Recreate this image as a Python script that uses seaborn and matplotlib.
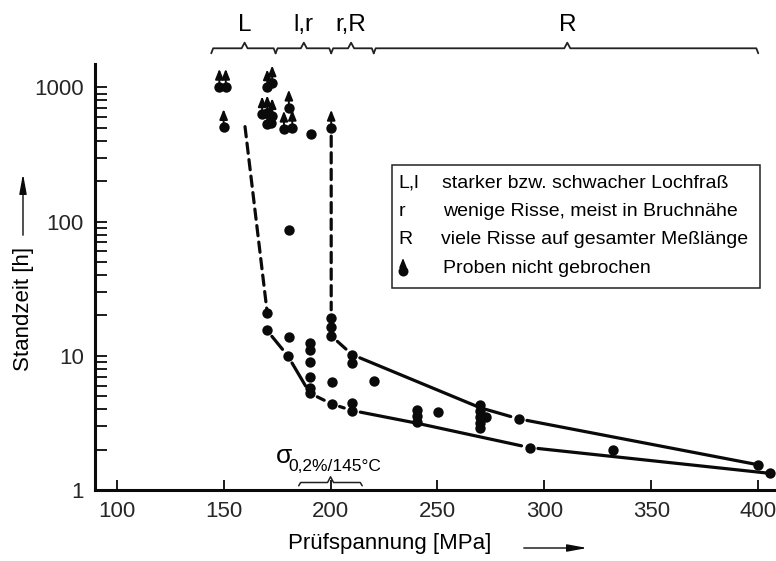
import matplotlib
matplotlib.use("Agg")
import matplotlib.pyplot as plt
import pandas as pd
import seaborn as sns
from matplotlib.transforms import offset_copy
from matplotlib.patches import Rectangle, FancyArrowPatch
from matplotlib.lines import Line2D
from matplotlib.ticker import FixedLocator, LogLocator, NullFormatter

# ---- data -------------------------------------------------------------
# broken specimens: test stress [MPa], time to failure [h]
broken_stress = [190.7, 180.5, 170.4, 170.1, 180.5, 180.0,
                 190.3, 190.3, 190.3, 190.3, 190.3, 190.3,
                 200.3, 200.3, 200.3, 200.5, 200.5,
                 210.1, 210.1, 210.1, 210.1, 220.2,
                 240.2, 240.2, 240.2, 250.3,
                 269.8, 269.8, 269.8, 269.8, 269.8, 272.9,
                 288.0, 293.1, 331.9, 400.1, 405.6]
broken_time = [446, 87, 20.8, 15.6, 13.9, 10.0,
               12.4, 11.1, 9.0, 6.9, 5.74, 5.27,
               19.1, 16.5, 14.1, 6.43, 4.38,
               10.2, 8.8, 4.43, 3.91, 6.5,
               3.95, 3.57, 3.23, 3.8,
               4.3, 3.89, 3.52, 3.18, 2.89, 3.52,
               3.39, 2.07, 1.99, 1.54, 1.33]

# specimens not broken (run-outs)
runout_stress = [148.0, 151.0, 150.0, 168.0, 170.4, 172.7, 170.4, 172.0,
                 170.4, 172.7, 180.5, 178.2, 182.1, 200.3]
runout_time = [1010, 1010, 506, 630, 640, 610, 530, 545,
               1000, 1070, 706, 492, 500, 500]

# scatter bands of time to failure
upper_stress = [200.3, 210.1, 270.0, 288.0, 400.1]
upper_time = [14.1, 10.2, 4.1, 3.39, 1.54]
lower_stress = [170.1, 180.0, 190.3, 200.5, 210.1, 240.2, 293.1, 405.6]
lower_time = [15.6, 10.0, 5.27, 4.38, 3.91, 3.15, 2.07, 1.33]

# thresholds towards the run-outs (dashed)
pit_stress = [160.0, 170.4]
pit_time = [510, 20.8]
crack_stress = [200.3, 200.3]
crack_time = [500, 19.1]

# corrosion appearance regions along the stress axis
region_edges = [144.2, 174.3, 200.3, 220.2, 400.0]
region_peaks = [159.8, 187.5, 209.6, 310.7]
region_labels = ["L", "l,r", "r,R", "R"]

# 0.2 % yield strength at 145 °C
yield_range = [185.1, 214.8]
yield_center = 200.0

x_ticks = [100, 150, 200, 250, 300, 350, 400]
y_ticks = [1, 10, 100, 1000]

legend_keys = ["L,l", "r", "R"]
legend_texts = ["starker bzw. schwacher Lochfraß",
                "wenige Risse, meist in Bruchnähe",
                "viele Risse auf gesamter Meßlänge",
                "Proben nicht gebrochen"]

# ---- style ------------------------------------------------------------
sns.set_theme(style="ticks")
REG = ["Liberation Sans", "DejaVu Sans"]
plt.rcParams["font.family"] = REG
plt.rcParams["text.color"] = "black"

W, H = 776, 561
fig = plt.figure(figsize=(W / 100, H / 100), dpi=100)


def fpx(x, y):
    """pixel position (from top-left) -> figure fraction"""
    return x / W, 1 - y / H


ax_left, ax_top, ax_bottom = 95, 64.3, 490
ax = fig.add_axes([ax_left / W, (H - ax_bottom) / H,
                   (W - ax_left) / W, (ax_bottom - ax_top) / H])
ax.set_facecolor("white")
ax.set_yscale("log")
ax.set_xlim(89.85, 408.3)
ax.set_ylim(1, 1486)

INK = "#0a0a0a"
ax.spines["top"].set_visible(False)
ax.spines["right"].set_visible(False)
for s in ("left", "bottom"):
    ax.spines[s].set_linewidth(2.2)
    ax.spines[s].set_color(INK)

ax.xaxis.set_major_locator(FixedLocator(x_ticks))
ax.yaxis.set_major_locator(FixedLocator(y_ticks))
ax.yaxis.set_minor_locator(LogLocator(base=10, subs=range(2, 10)))
ax.yaxis.set_minor_formatter(NullFormatter())
ax.set_xticklabels([str(v) for v in x_ticks])
ax.set_yticklabels([str(v) for v in y_ticks])
ax.tick_params(axis="both", which="both", direction="in", color=INK, width=1.3)
ax.tick_params(axis="x", which="major", length=7.5, pad=8)
ax.tick_params(axis="y", which="both", length=8.5, pad=8)
for lab in ax.get_xticklabels() + ax.get_yticklabels():
    lab.set_fontsize(16)

# ---- lines ------------------------------------------------------------
LW = 2.3


def polyline(xs, ys, gaps, **style):
    for i in range(len(xs) - 1):
        ax.annotate("", xy=(xs[i + 1], ys[i + 1]), xytext=(xs[i], ys[i]),
                    arrowprops=dict(arrowstyle="-", lw=LW, color=INK,
                                    shrinkA=gaps[i], shrinkB=gaps[i + 1],
                                    **style), zorder=2)


polyline(upper_stress, upper_time, [6, 6, 0, 6, 3])
polyline(lower_stress, lower_time, [6, 6, 6, 6, 6, 0, 6, 3])
dash = (0, (3.2, 2.0))
polyline(pit_stress, pit_time, [0, 2], linestyle=dash)
polyline(crack_stress, crack_time, [6, 6], linestyle=dash)

# ---- specimens ----------------------------------------------------------
df_b = pd.DataFrame({"stress": broken_stress, "time": broken_time})
df_r = pd.DataFrame({"stress": runout_stress, "time": runout_time})
for df in (df_b, df_r):
    sns.scatterplot(data=df, x="stress", y="time", ax=ax, color=INK,
                    s=56, linewidth=0, legend=False, zorder=3)
ax.set_xlabel("")
ax.set_ylabel("")

ARROW = "-|>,head_length=0.5,head_width=0.2"
for x, y in zip(runout_stress, runout_time):
    tip = offset_copy(ax.transData, fig=fig, x=0, y=18, units="dots")
    ax.annotate("", xy=(x, y), xycoords=tip, xytext=(x, y), textcoords="data",
                arrowprops=dict(arrowstyle=ARROW, lw=1.4, color=INK,
                                shrinkA=0, shrinkB=0, mutation_scale=12),
                zorder=3)

# ---- braces -------------------------------------------------------------
xtrans = ax.get_xaxis_transform()


def brace(x0, x1, xm, y_base, y_tip, y_end, curl, tip_w, transform, lw):
    xs = [x0, x0 + curl * 0.35, x0 + curl, xm - tip_w, xm, xm + tip_w,
          x1 - curl, x1 - curl * 0.35, x1]
    ys = [y_end, y_base, y_base, y_base, y_tip, y_base,
          y_base, y_base, y_end]
    ax.add_line(Line2D(xs, ys, transform=transform, color="#222222",
                       lw=lw, clip_on=False, solid_joinstyle="round"))


for i, lab in enumerate(region_labels):
    brace(region_edges[i], region_edges[i + 1], region_peaks[i],
          1.0376, 1.0508, 1.0258, 2.6, 1.4, xtrans, 1.3)
    ax.text(region_peaks[i], 1.0923, lab, transform=xtrans, ha="center",
            va="center", fontsize=17.5)

brace(yield_range[0], yield_range[1], yield_center,
      0.0176, 0.031, 0.0099, 2.6, 1.4, xtrans, 1.1)
ax.text(178.0, 0.080, "σ", transform=xtrans, ha="center", va="center",
        fontsize=19)
ax.text(180.3, 0.0547, "0,2%/145°C", transform=xtrans, ha="left",
        va="center", fontsize=12.5)

# ---- axis titles with arrows ---------------------------------------------
fig.text(*fpx(23, 309), "Standzeit [h]", rotation=90, ha="center",
         va="center", fontsize=16)
fig.text(*fpx(390, 543), "Prüfspannung [MPa]", ha="center", va="center",
         fontsize=16)
AX_ARROW = "-|>,head_length=1.2,head_width=0.22"
fig.add_artist(FancyArrowPatch(
    fpx(23, 238), fpx(23, 171), transform=fig.transFigure,
    arrowstyle=AX_ARROW, mutation_scale=10, lw=1.0, color=INK))
fig.add_artist(FancyArrowPatch(
    fpx(521, 548), fpx(590, 548), transform=fig.transFigure,
    arrowstyle=AX_ARROW, mutation_scale=10, lw=1.0, color=INK))

# ---- key box ----------------------------------------------------------
bx0, by0 = fpx(391.7, 288.3)
bx1, by1 = fpx(760, 165)
fig.add_artist(Rectangle((bx0, by0), bx1 - bx0, by1 - by0,
                         transform=fig.transFigure, fill=False,
                         edgecolor="#222222", lw=1.1))
rows_y = [183.3, 211, 240, 268.3]
for key, yy in zip(legend_keys, rows_y[:3]):
    fig.text(*fpx(398.3, yy), key, ha="left", va="center", fontsize=14)
text_x = [441.7, 443.3, 441.0, 443.3]
for txt, xx, yy in zip(legend_texts, text_x, rows_y):
    fig.text(*fpx(xx, yy), txt, ha="left", va="center", fontsize=14)
mx, my = fpx(403, 271)
fig.add_artist(Line2D([mx], [my], transform=fig.transFigure, marker="o",
                      markersize=7.2, color=INK, markeredgewidth=0))
ax.annotate("", xy=fpx(403, 258), xycoords="figure fraction",
            xytext=fpx(403, 271), textcoords="figure fraction",
            arrowprops=dict(arrowstyle="-|>,head_length=0.45,head_width=0.18",
                            lw=1.1, color=INK, shrinkA=0, shrinkB=0,
                            mutation_scale=12))

fig.savefig("out.png", dpi=100, facecolor="white")
